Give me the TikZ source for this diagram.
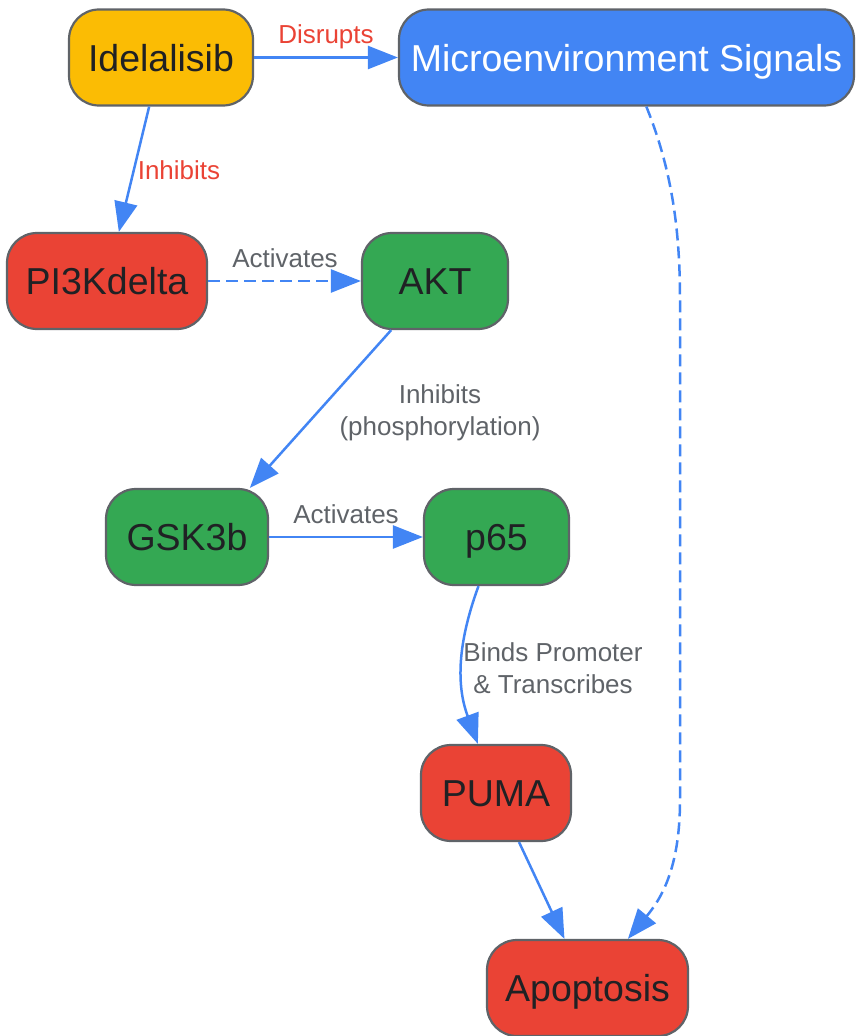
\documentclass[tikz,border=0pt]{standalone}
\usepackage{fontspec}
\setmainfont{Liberation Sans}
\usetikzlibrary{arrows.meta, positioning}
\definecolor{gyellow}{HTML}{FBBC04}
\definecolor{gblue}{HTML}{4285F4}
\definecolor{gred}{HTML}{EA4335}
\definecolor{ggreen}{HTML}{34A853}
\definecolor{ggrey}{HTML}{5F6368}
\definecolor{gdark}{HTML}{202124}
\tikzset{
  box/.style={draw=ggrey, line width=2.2pt, rounded corners=30pt, minimum height=96pt,
    text=gdark, font=\fontsize{37.5}{44}\selectfont, text height=27pt, text depth=0pt, inner sep=0pt},
  edge/.style={-{Triangle[length=30pt,width=23pt]}, draw=gblue, line width=2.5pt},
  dashedge/.style={edge, dash pattern=on 12pt off 6pt},
  lbl/.style={text=ggrey, font=\fontsize{26}{32}\selectfont, align=center, inner sep=0pt}
}

\begin{document}
\begin{tikzpicture}[x=1pt, y=-1pt]
  \useasboundingbox (0,0) rectangle (855,1036);
%% boxes
  \node[box, fill=gyellow, minimum width=184pt] (idel) at (161,57.5) {Idelalisib};
  \node[box, fill=gblue, text=white, minimum width=455pt] (micro) at (626.5,57.5) {Microenvironment Signals};
  \node[box, fill=gred, minimum width=200pt] (pik) at (107,281) {PI3Kdelta};
  \node[box, fill=ggreen, minimum width=146pt] (akt) at (435,281) {AKT};
  \node[box, fill=ggreen, minimum width=162pt] (gsk) at (187,537) {GSK3b};
  \node[box, fill=ggreen, minimum width=145pt] (p65) at (496.5,537) {p65};
  \node[box, fill=gred, minimum width=150pt] (puma) at (496,793) {PUMA};
  \node[box, fill=gred, minimum width=201pt] (apop) at (587.5,988) {Apoptosis};
%% labels
  \node[lbl, text=gred, anchor=base] (ldisrupts) at (326,43) {Disrupts};
  \node[lbl, text=gred, anchor=base] (linhibits) at (179,179) {Inhibits};
  \node[lbl, anchor=base] (lactakt) at (285,267) {Activates};
  \node[lbl] (lphos) at (440,413) {Inhibits\\(phosphorylation)};
  \node[lbl, anchor=base] (lactp65) at (346,523) {Activates};
  \node[lbl] (lbinds) at (553,668) {Binds Promoter\\\& Transcribes};
%% connectors
  \draw[edge] (idel) -- (micro);
  \draw[edge] (idel) -- (pik);
  \draw[dashedge] (pik) -- (akt);
  \draw[edge] (akt) -- (gsk.38);
  \draw[edge] (gsk) -- (p65);
  \draw[edge] (p65) .. controls (455,650) and (458,690) .. (puma);
  \draw[edge] (puma) -- (apop);
  \draw[dashedge] (micro) .. controls (672,170) and (680,230) .. (680,300)
    -- (680,800) .. controls (680,870) and (660,900) .. (apop);
\end{tikzpicture}
\end{document}
